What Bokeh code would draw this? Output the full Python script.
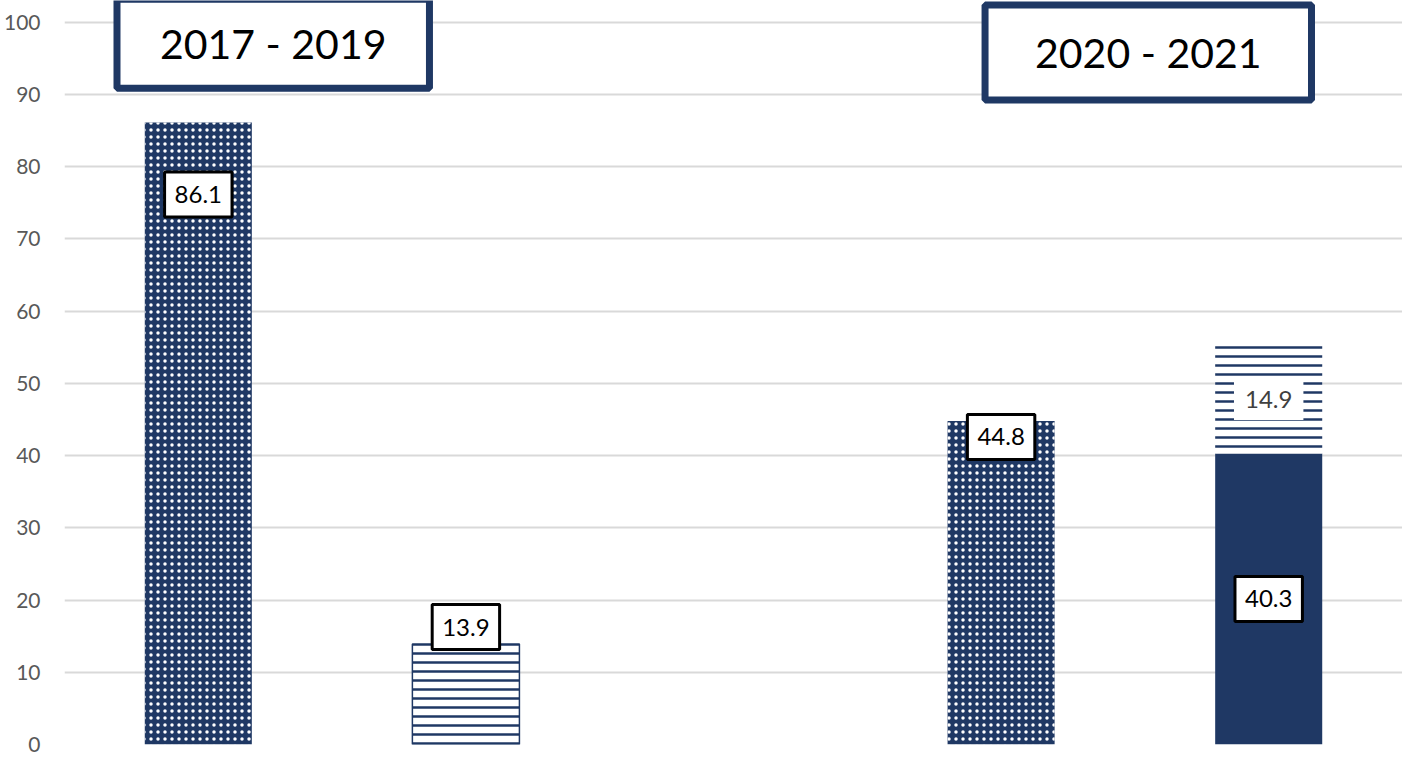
from bokeh.plotting import figure
from bokeh.models import FactorRange, Range1d, FixedTicker, Label, ColumnDataSource
from bokeh.core.properties import value
from bokeh.embed import file_html
from bokeh.resources import INLINE

# ---- data ----
slots = ["p1", "p2", "gap", "p3", "p4"]
period_titles = ["2017 - 2019", "2020 - 2021"]
y_ticks = [0, 10, 20, 30, 40, 50, 60, 70, 80, 90, 100]

dotted_cats = ["p1", "p3"]
dotted_vals = [86.1, 44.8]

solid_cats = ["p4"]
solid_vals = [40.3]

lined_cats = ["p2", "p4"]
lined_vals = [13.9, 14.9]

# ---- styles ----
NAVY = "#1f3864"
FONT = "Lato"
BAR_W = 0.4

lined_bottom = [solid_vals[solid_cats.index(c)] if c in solid_cats else 0 for c in lined_cats]
lined_top = [b + v for b, v in zip(lined_bottom, lined_vals)]

p = figure(width=1402, height=756, x_range=FactorRange(*slots), y_range=Range1d(0, 103),
           x_axis_type=None, output_backend="svg", toolbar_location=None,
           min_border_left=62, min_border_right=0, min_border_top=0, min_border_bottom=12)
p.outline_line_color = None
p.background_fill_color = "white"
p.xgrid.grid_line_color = None
p.ygrid.grid_line_color = "#d9d9d9"
p.ygrid.grid_line_width = 2
p.yaxis.ticker = FixedTicker(ticks=y_ticks)
p.yaxis.axis_line_color = None
p.yaxis.major_tick_line_color = None
p.yaxis.minor_tick_line_color = None
p.yaxis.major_label_text_font = FONT
p.yaxis.major_label_text_font_size = "21px"
p.yaxis.major_label_text_color = "#595959"
p.yaxis.major_label_standoff = 18

# dotted bars
p.vbar(x=dotted_cats, top=dotted_vals, width=BAR_W, fill_color=NAVY, line_color=None,
       hatch_pattern="dot", hatch_color="white", hatch_scale=7, hatch_weight=0.1)
# solid bar
p.vbar(x=solid_cats, top=solid_vals, width=BAR_W, fill_color=NAVY, line_color=None)
# lined bars
lsrc = ColumnDataSource(dict(x=lined_cats, bottom=lined_bottom, top=lined_top,
                             la=[1.0 if b == 0 else 0.0 for b in lined_bottom]))
p.vbar(x="x", bottom="bottom", top="top", width=BAR_W, source=lsrc, fill_color="white",
       line_color=NAVY, line_alpha="la", line_width=1.5,
       hatch_pattern="horizontal_line", hatch_color=NAVY, hatch_scale=9, hatch_weight=2.5)

# boxed labels
bx = dotted_cats + [lined_cats[0]] + solid_cats
by = dotted_vals + [lined_top[0]] + [v / 2 for v in solid_vals]
btxt = [f"{v:.1f}" for v in dotted_vals] + [f"{lined_vals[0]:.1f}"] + [f"{v:.1f}" for v in solid_vals]
boff = [72, 16, -17, 0]
bsrc = ColumnDataSource(dict(x=bx, y=by, t=btxt, off=boff))
p.text(x="x", y="y", text="t", y_offset="off", source=bsrc, text_font=value(FONT),
       text_font_size="24px", text_color="black", text_align="center", text_baseline="middle",
       background_fill_color="white", border_line_color="black", border_line_width=3,
       padding=(10, 14))

# plain label
psrc = ColumnDataSource(dict(x=[lined_cats[1]], y=[lined_bottom[1] + lined_vals[1] / 2],
                             t=[f"{lined_vals[1]:.1f}"]))
p.text(x="x", y="y", text="t", source=psrc, text_font=value(FONT), text_font_size="24px",
       text_color="#404040", text_align="center", text_baseline="middle",
       background_fill_color="white", padding=(11, 12))

# period header boxes
for title, xpos, ypos, pad in zip(period_titles, [0.78, 4.05], [97.0, 95.8], [(43, 20), (50, 23)]):
    p.add_layout(Label(x=xpos, y=ypos, text=title, text_align="center", text_baseline="middle",
                       text_font=FONT, text_font_size="41px", text_color="black",
                       background_fill_color="white", border_line_color=NAVY,
                       border_line_width=7, padding=pad))

open("out.html", "w").write(file_html(p, INLINE))
